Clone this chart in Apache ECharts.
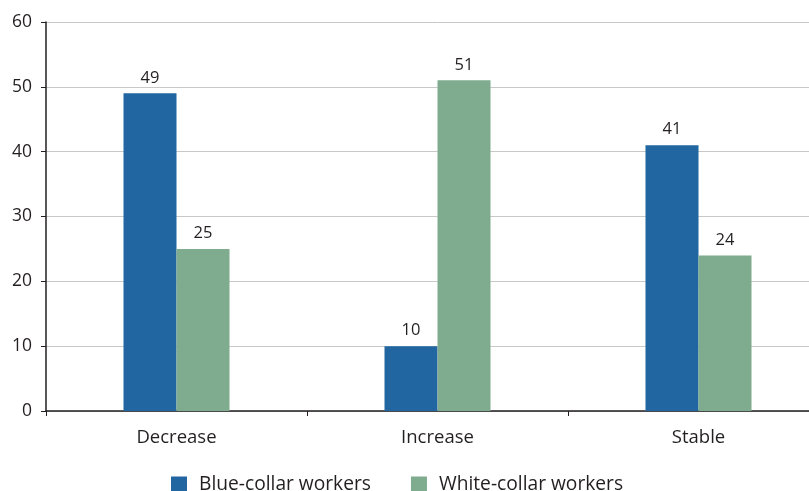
<!DOCTYPE html>
<html>
<head>
<meta charset="utf-8">
<script src="https://cdn.jsdelivr.net/npm/echarts@6/dist/echarts.min.js"></script>
<style>
  html, body { margin: 0; padding: 0; background: #fff; overflow: hidden; }
  #wrap { width: 809px; height: 491px; overflow: hidden; }
  /* the plot runs a little past the right edge of the visible area */
  #chart { width: 829px; height: 491px; }
</style>
</head>
<body>
<div id="wrap"><div id="chart"></div></div>
<script>
// Change in share of workers, by occupation type
const categories = ['Decrease', 'Increase', 'Stable'];
const blueCollar = [49, 10, 41];
const whiteCollar = [25, 51, 24];
const yTicks = { min: 0, max: 60, interval: 10 };

const FONT = '"Open Sans", "Noto Sans", sans-serif';
const TEXT = '#231f20';

const chart = echarts.init(document.getElementById('chart'), null, { renderer: 'canvas' });

const labelStyle = {
  show: true,
  position: 'top',
  distance: 7,
  color: TEXT,
  fontFamily: FONT,
  fontSize: 16.5
};

chart.setOption({
  animation: false,
  textStyle: { fontFamily: FONT },
  grid: { left: 46, right: 0, top: 22, height: 389, containLabel: false },
  legend: {
    top: 470,
    left: 166,
    itemWidth: 16,
    itemHeight: 16,
    itemGap: 40,
    icon: 'rect',
    textStyle: { color: TEXT, fontFamily: FONT, fontSize: 19.2, padding: [0, 0, 0, 7] },
    data: ['Blue-collar workers', 'White-collar workers']
  },
  xAxis: {
    type: 'category',
    data: categories,
    axisLine: { lineStyle: { color: '#231f20', width: 1.5 } },
    axisTick: { show: true, alignWithLabel: false, length: 5, lineStyle: { color: '#231f20' } },
    axisLabel: { color: TEXT, fontFamily: FONT, fontSize: 18.5, margin: 17 }
  },
  yAxis: {
    type: 'value',
    min: yTicks.min,
    max: yTicks.max,
    interval: yTicks.interval,
    axisLine: { show: true, lineStyle: { color: '#231f20', width: 1.5 } },
    axisTick: { show: true, length: 5, lineStyle: { color: '#231f20' } },
    axisLabel: { color: TEXT, fontFamily: FONT, fontSize: 17.5, margin: 14 },
    splitLine: { lineStyle: { color: '#c8c8c8', width: 1 } }
  },
  series: [
    {
      name: 'Blue-collar workers',
      type: 'bar',
      data: blueCollar,
      barWidth: 53,
      barGap: '0%',
      itemStyle: { color: '#2166a0' },
      label: labelStyle
    },
    {
      name: 'White-collar workers',
      type: 'bar',
      data: whiteCollar,
      barWidth: 53,
      barGap: '0%',
      itemStyle: { color: '#7fab8e' },
      label: labelStyle
    }
  ]
});
</script>
</body>
</html>
